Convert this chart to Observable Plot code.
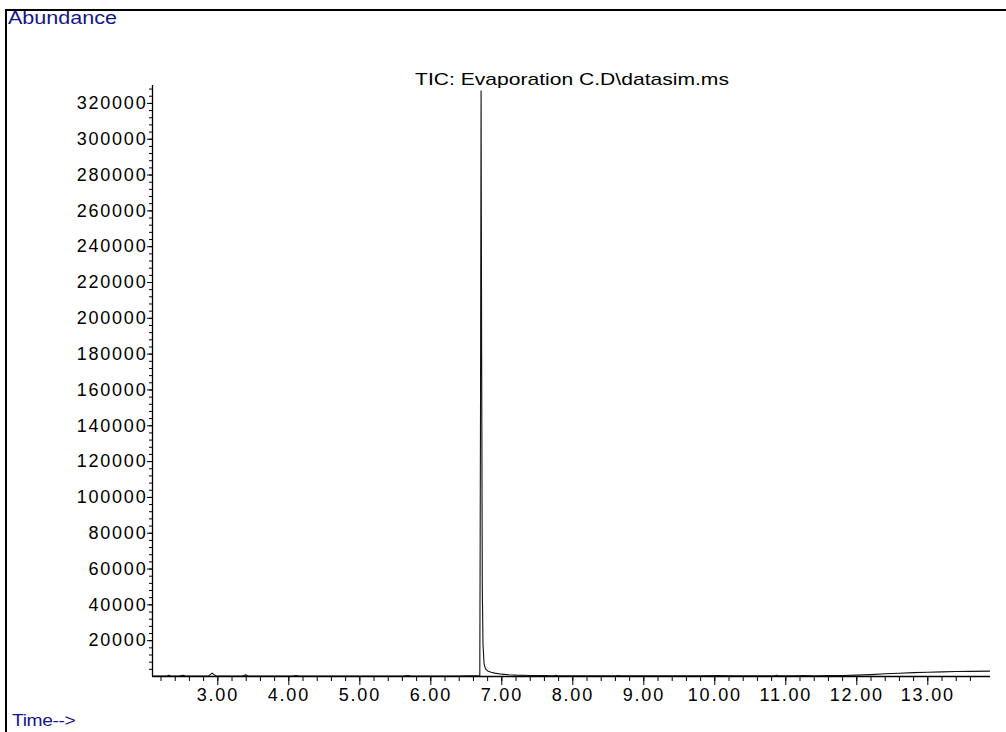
<!DOCTYPE html>
<html>
<head>
<meta charset="utf-8">
<script src="https://cdn.jsdelivr.net/npm/d3@7"></script>
<script src="https://cdn.jsdelivr.net/npm/@observablehq/plot@0.6"></script>
<style>
  html, body { margin: 0; padding: 0; background: #fff; }
  #wrap { position: relative; width: 1006px; height: 732px; overflow: hidden; font-family: "Liberation Sans", Arial, sans-serif; }
  #chart { position: absolute; left: 0; top: 0; }
  .frame { position: absolute; left: 5px; top: 9px; width: 1010px; height: 740px; border-left: 2px solid #000; border-top: 2px solid #000; box-sizing: border-box; }
  .lbl { position: absolute; white-space: nowrap; transform-origin: 0 0; line-height: 1; }
  #abund { left: 8px; top: 10px; font-size: 17.5px; color: #14148c; transform: scaleX(1.23); letter-spacing: 0px; }
  #title { left: 415px; top: 71px; font-size: 17px; color: #000; transform: scaleX(1.24); letter-spacing: 0px; }
  #time { left: 12px; top: 713px; font-size: 16px; color: #14148c; transform: scaleX(1.2); letter-spacing: -0.3px; }
</style>
</head>
<body>
<div id="wrap">
  <div id="chart"></div>
  <div class="frame"></div>
  <div class="lbl" id="abund">Abundance</div>
  <div class="lbl" id="title">TIC: Evaporation C.D\datasim.ms</div>
  <div class="lbl" id="time">Time--&gt;</div>
</div>
<script>
// Retention time (min)
const times = [
  2.08, 2.20, 2.28, 2.31, 2.34, 2.45, 2.51, 2.55, 2.70, 2.87, 2.92, 2.97, 3.10,
  3.35, 3.39, 3.43, 3.60, 3.80, 4.05, 4.10, 4.15, 4.40, 4.60, 4.80, 5.00, 5.30,
  5.60, 5.68, 5.72, 5.76, 6.00, 6.30, 6.55, 6.69, 6.700, 6.708, 6.716, 6.725,
  6.735, 6.75, 6.77, 6.80, 6.85, 6.90, 7.00, 7.10, 7.20, 7.40, 7.60, 7.73, 7.76,
  7.79, 8.00, 8.30, 8.60, 8.64, 8.68, 9.00, 9.40, 9.80, 10.03, 10.30, 10.60,
  10.84, 10.87, 10.90, 11.10, 11.25, 11.40, 11.60, 11.80, 12.00, 12.20, 12.40,
  12.60, 12.80, 13.00, 13.20, 13.40, 13.60, 13.883
];
// Total ion current abundance
const abundance = [
  250, 280, 300, 700, 300, 280, 650, 300, 280, 320, 1900, 330, 300,
  300, 900, 300, 280, 280, 280, 500, 280, 280, 300, 280, 300, 300,
  300, 500, 300, 300, 300, 320, 350, 400, 150000, 327000, 180000, 50000,
  18000, 7000, 4300, 3100, 2400, 1900, 1300, 950, 750, 600, 500, 450, 650,
  450, 420, 400, 400, 600, 400, 400, 400, 420, 500, 420, 430,
  450, 700, 450, 450, 550, 450, 480, 560, 750, 1050, 1500,
  1850, 2150, 2400, 2600, 2750, 2850, 3000
];

const xDomain = [2.08, 13.883];
const yDomain = [0, 330000];
const xMajorTicks = [3, 4, 5, 6, 7, 8, 9, 10, 11, 12, 13];
const xMinorTicks = d3.range(11, 69).map(i => i / 5);          // every 0.20 min
const yMajorTicks = d3.range(1, 17).map(i => i * 20000);        // 20000 … 320000
const yMinorTicks = d3.range(1, 83).map(i => i * 4000);         // every 4000

const data = times.map((t, i) => ({t, a: abundance[i]}));

const plot = Plot.plot({
  width: 1006,
  height: 732,
  marginLeft: 152,
  marginRight: 16,
  marginTop: 85,
  marginBottom: 56,
  style: {
    fontFamily: "'Liberation Sans', Arial, sans-serif",
    fontSize: "18px",
    letterSpacing: "1.8px",
    color: "#000",
    background: "transparent",
    overflow: "visible"
  },
  x: {domain: xDomain, label: null},
  y: {domain: yDomain, label: null},
  marks: [
    Plot.axisX(xMinorTicks, {tickSize: 5, tickFormat: () => "", label: null, stroke: "#000"}),
    Plot.axisX(xMajorTicks, {tickSize: 9, tickPadding: 3, tickFormat: d => d.toFixed(2), label: null, stroke: "#000", fill: "#000"}),
    Plot.axisY(yMinorTicks, {tickSize: 3, tickFormat: () => "", label: null, stroke: "#000"}),
    Plot.axisY(yMajorTicks, {tickSize: 5, tickPadding: 0, tickFormat: d => String(d), label: null, stroke: "#000", fill: "#000"}),
    Plot.ruleX([xDomain[0]], {y1: yDomain[0], y2: yDomain[1], stroke: "#000", strokeWidth: 1.3}),
    Plot.ruleY([yDomain[0]], {x1: xDomain[0], x2: xDomain[1], stroke: "#000", strokeWidth: 1.3}),
    Plot.line(data, {x: "t", y: "a", stroke: "#111", strokeWidth: 1.1, clip: true})
  ]
});
document.getElementById("chart").appendChild(plot);
</script>
</body>
</html>
